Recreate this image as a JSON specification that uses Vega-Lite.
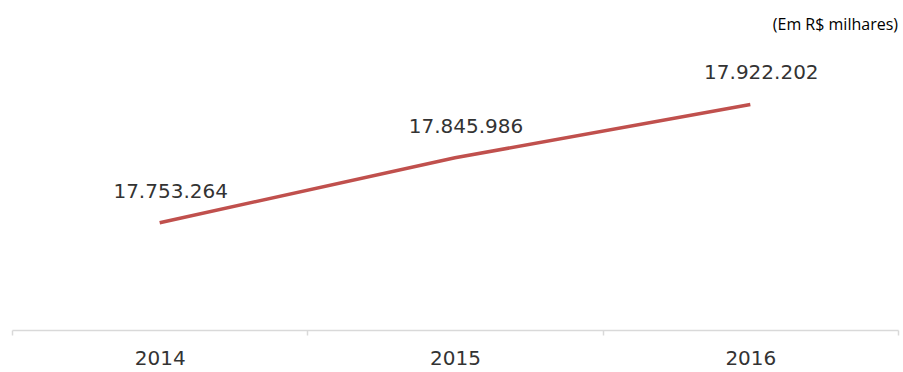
{
  "$schema": "https://vega.github.io/schema/vega-lite/v6.json",
  "width": 886,
  "height": 280,
  "autosize": "none",
  "padding": {"left": 12, "top": 50, "right": 5, "bottom": 42},
  "background": "white",
  "data": {"values": [
    {"ano": "2014", "valor": 17753264, "rotulo": "17.753.264"},
    {"ano": "2015", "valor": 17845986, "rotulo": "17.845.986"},
    {"ano": "2016", "valor": 17922202, "rotulo": "17.922.202"}
  ]},
  "title": {
    "text": "(Em R$ milhares)",
    "anchor": "end",
    "frame": "group",
    "font": "Open Sans",
    "fontSize": 16,
    "fontWeight": "normal",
    "color": "#000000",
    "offset": 17
  },
  "config": {"view": {"stroke": null}},
  "encoding": {
    "x": {
      "field": "ano",
      "type": "ordinal",
      "scale": {"type": "band", "paddingInner": 0, "paddingOuter": 0},
      "axis": {
        "title": null,
        "labelAngle": 0,
        "tickBand": "extent",
        "domainColor": "#d9d9d9",
        "domainWidth": 1.5,
        "tickColor": "#d9d9d9",
        "tickWidth": 1.5,
        "tickSize": 5,
        "labelFont": "DejaVu Sans",
        "labelFontSize": 20,
        "labelColor": "#333333",
        "labelPadding": 13
      }
    },
    "y": {
      "field": "valor",
      "type": "quantitative",
      "scale": {"domain": [17600000, 18000000], "zero": false},
      "axis": null
    }
  },
  "layer": [
    {
      "mark": {"type": "line", "color": "#c0504d", "strokeWidth": 3.5}
    },
    {
      "mark": {"type": "text", "font": "DejaVu Sans", "fontSize": 20, "color": "#333333", "dx": 11, "dy": -31, "align": "center", "baseline": "middle"},
      "encoding": {"text": {"field": "rotulo"}}
    }
  ]
}
